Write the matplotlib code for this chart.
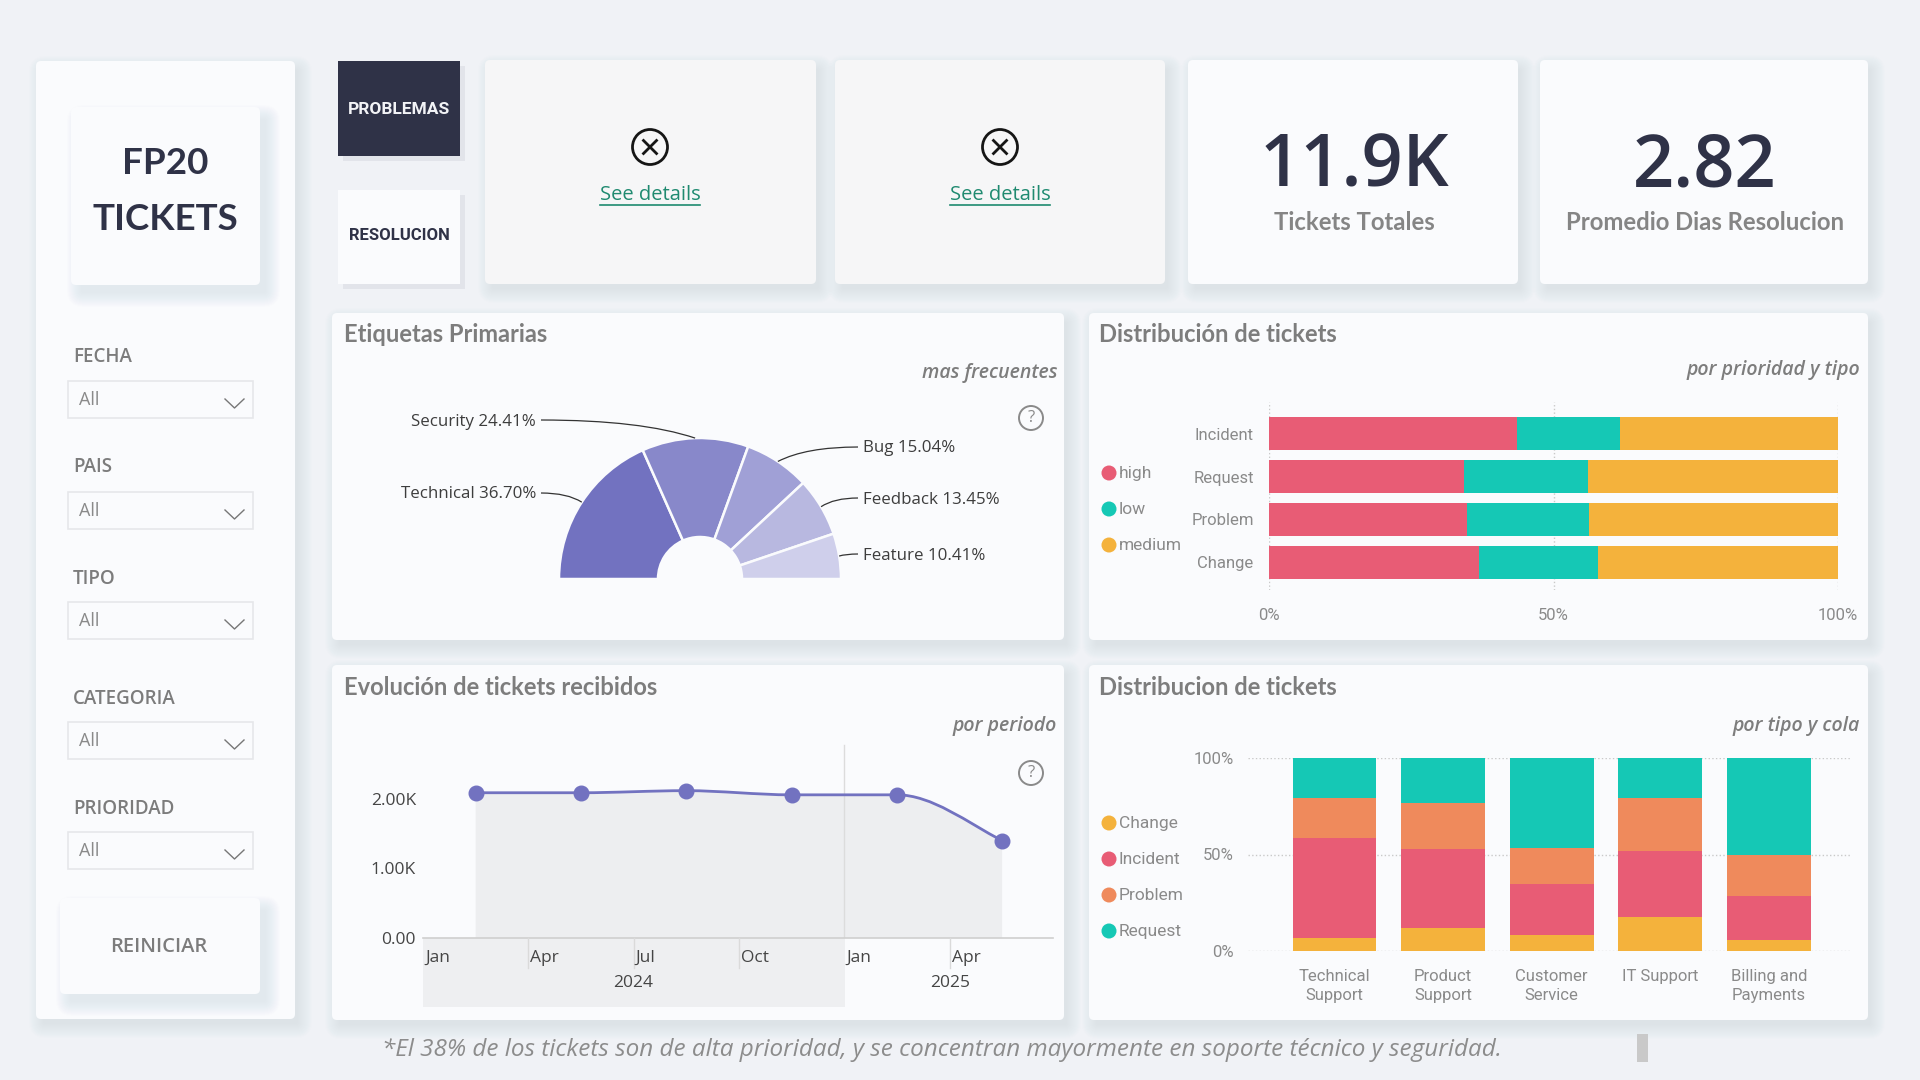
import matplotlib
matplotlib.use("Agg")
import matplotlib.pyplot as plt
from matplotlib.patches import FancyBboxPatch, Rectangle, Circle, PathPatch
from matplotlib.path import Path
import numpy as np

W, H = 1920, 1080
BG = "#F0F2F6"; CARD = "#FAFBFD"; DARK = "#2F3247"; GREY = "#808080"; AXT = "#8A8A8A"
RED = "#E85C75"; TEAL = "#15C8B5"; AMBER = "#F4B23C"; ORANGE = "#EF8A5C"; PURPLE = "#7272C0"

# ---- data ----
tag_names = ["Technical", "Security", "Bug", "Feedback", "Feature"]
tag_values = [36.70, 24.41, 15.04, 13.45, 10.41]
tag_colors = ["#7272C0", "#8888CA", "#A0A0D6", "#B8B8E0", "#CFCFEB"]

prio_types = ["Incident", "Request", "Problem", "Change"]
prio_high = [43.5, 34.3, 34.8, 36.9]
prio_low = [18.1, 21.7, 21.5, 20.9]
prio_medium = [38.4, 44.0, 43.7, 42.2]

months_x = [0.5, 1.5, 2.5, 3.5, 4.5, 5.5]
tickets_k = [2.09, 2.09, 2.12, 2.06, 2.06, 1.40]
quarter_labels = ["Jan", "Apr", "Jul", "Oct", "Jan", "Apr"]

queues = ["Technical\nSupport", "Product\nSupport", "Customer\nService", "IT Support", "Billing and\nPayments"]
q_change = [6.9, 12.1, 8.3, 17.8, 5.7]
q_incident = [51.4, 41.0, 26.6, 34.1, 23.0]
q_problem = [21.1, 23.5, 18.7, 27.5, 20.9]
q_request = [20.6, 23.4, 46.4, 20.6, 50.4]

filters = ["FECHA", "PAIS", "TIPO", "CATEGORIA", "PRIORIDAD"]
kpi_values = ["11.9K", "2.82"]
kpi_labels = ["Tickets Totales", "Promedio Dias Resolucion"]

# ---- figure ----
fig = plt.figure(figsize=(19.2, 10.8), dpi=100, facecolor=BG)

def px_axes(x0, y0, x1, y1, z=2):
    a = fig.add_axes([x0 / W, 1 - y1 / H, (x1 - x0) / W, (y1 - y0) / H], zorder=z)
    a.patch.set_alpha(0)
    return a

bg = px_axes(0, 0, W, H, z=0); bg.set_xlim(0, W); bg.set_ylim(H, 0); bg.axis("off")
top = px_axes(0, 0, W, H, z=5); top.set_xlim(0, W); top.set_ylim(H, 0); top.axis("off")

def card(x0, y0, x1, y1, color=CARD, shadow=True, r=5, z=1, sdx=5, sdy=7):
    if shadow:
        for g in range(-4, 26, 2):
            bg.add_patch(FancyBboxPatch((x0 + sdx - g/2, y0 + sdy - g/2), x1 - x0 + g, y1 - y0 + g,
                         boxstyle=f"round,pad=0,rounding_size={max(r + g/2, 1)}", fc="#A9B6D6", ec="none",
                         alpha=0.014, zorder=z))
    bg.add_patch(FancyBboxPatch((x0, y0), x1 - x0, y1 - y0, boxstyle=f"round,pad=0,rounding_size={r}",
                 fc=color, ec="none", zorder=z + 0.5))

def button(x0, y0, x1, y1, color):
    bg.add_patch(Rectangle((x0 + 5, y0 + 5), x1 - x0, y1 - y0, fc="#E2E4EA", ec="none", zorder=1))
    bg.add_patch(Rectangle((x0, y0), x1 - x0, y1 - y0, fc=color, ec="none", zorder=1.5))

def txt(x, y, s, size, color=GREY, ha="left", va="center", family="Open Sans", weight="normal", style="normal", ax=top, **k):
    return ax.text(x, y + 2.5, s, fontsize=size, color=color, ha=ha, va=va, family=family, weight=weight, style=style, **k)

# ---- cards ----
card(36, 61, 295, 1019, z=1)
card(71, 107, 260, 285, z=2, sdx=8, sdy=10)
card(60, 898, 260, 994, z=2, sdx=8, sdy=10)
button(338, 61, 460, 156, DARK)
button(338, 190, 460, 284, CARD)
card(485, 60, 816, 284, color="#F6F6F7", z=1)
card(835, 60, 1165, 284, color="#F6F6F7", z=1)
card(1188, 60, 1518, 284, z=1)
card(1540, 60, 1868, 284, z=1)
card(332, 313, 1064, 640, z=1)
card(1089, 313, 1868, 640, z=1)
card(332, 665, 1064, 1020, z=1)
card(1089, 665, 1868, 1020, z=1)

# ---- sidebar ----
txt(165, 161.5, "FP20", 26.5, DARK, ha="center", family="Lato", weight="bold")
txt(165, 217.5, "TICKETS", 26.5, DARK, ha="center", family="Lato", weight="bold")
filter_y = [355, 465, 576, 696, 807]
box_y = [381, 492, 602, 722, 832]
for name, ly, by in zip(filters, filter_y, box_y):
    txt(73, ly, name, 13.5, "#7C7C7C", weight="semibold")
    top.add_patch(Rectangle((68, by), 185, 36.5, fc="#FAFBFD", ec="#E6E7EA", lw=1.2))
    txt(79, by + 16.5, "All", 13, "#8A8A8A")
    c = by + 18
    top.plot([225, 234.5, 244], [c, c + 9, c], color="#777777", lw=1)
txt(159, 944, "REINICIAR", 14.5, "#7C7C7C", ha="center", weight="semibold")

# ---- buttons ----
txt(399, 106.5, "PROBLEMAS", 12.5, "#F2F3F6", ha="center", weight="bold", family="Roboto")
txt(399, 233.5, "RESOLUCION", 12, DARK, ha="center", weight="semibold", family="Roboto")

# ---- see details ----
for cx in (650, 1000):
    top.add_patch(Circle((cx, 147), 17.5, fc="none", ec="#151515", lw=2))
    top.plot([cx - 6.5, cx + 6.5], [140.5, 153.5], color="#151515", lw=2)
    top.plot([cx - 6.5, cx + 6.5], [153.5, 140.5], color="#151515", lw=2)
    txt(cx, 193, "See details", 14.5, "#1F8A70", ha="center")
    top.plot([cx - 50, cx + 50], [205, 205], color="#1F8A70", lw=1.2)

# ---- KPIs ----
for cx, v, l in zip((1354, 1705), kpi_values, kpi_labels):
    txt(cx, 165, v, 52, DARK, ha="center", weight="semibold")
    txt(cx, 220.5, l, 17.2, "#858585", ha="center", family="Lato", weight="bold")

# ---- titles ----
titles = [(344, 332, "Etiquetas Primarias"), (1099, 332, "Distribución de tickets"),
          (344, 685, "Evolución de tickets recibidos"), (1099, 685, "Distribucion de tickets")]
for x, y, s in titles:
    txt(x, y, s, 17.1, "#7D7D7D", family="Lato", weight="bold")
subs = [(1057, 370.5, "mas frecuentes"), (1860, 368, "por prioridad y tipo"),
        (1057, 723, "por periodo"), (1860, 723, "por tipo y cola")]
for x, y, s in subs:
    txt(x, y, s, 14, "#7D7D7D", ha="right", style="italic", weight="semibold")

# ---- question icons ----
for y in (418, 773):
    top.add_patch(Circle((1031, y), 12, fc="none", ec="#8A8A8A", lw=1.4))
    txt(1031, y - 2.5, "?", 12, "#8A8A8A", ha="center")

# ---- half donut ----
CX, CY, RO, RI = 700, 579, 141, 42
axp = px_axes(CX - RO, CY - RO, CX + RO, CY, z=2)
total = sum(tag_values)
wedges, _ = axp.pie(tag_values + [total], startangle=180, counterclock=False, radius=1,
                    colors=tag_colors + ["none"],
                    wedgeprops=dict(width=1 - RI / RO, edgecolor=CARD, linewidth=1.8))
wedges[-1].set_visible(False)
axp.set_xlim(-1, 1); axp.set_ylim(0, 1); axp.set_aspect("auto")

label_pos = [(536, 493, "right"), (536, 420, "right"), (863, 447, "left"), (863, 498, "left"), (863, 554, "left")]
cum = 0
for name, val, (lx, ly, ha) in zip(tag_names, tag_values, label_pos):
    ang = np.deg2rad(180 - (cum + val / 2) / total * 180)
    cum += val
    ax_, ay_ = CX + RO * np.cos(ang), CY - RO * np.sin(ang)
    ex = lx + (5 if ha == "right" else -5)
    ctrl = (ex * 0.35 + ax_ * 0.65, ly)
    top.add_patch(PathPatch(Path([(ex, ly), ctrl, (ax_, ay_)], [Path.MOVETO, Path.CURVE3, Path.CURVE3]),
                            fc="none", ec="#333333", lw=0.9))
    txt(lx, ly - 1, f"{name} {val:.2f}%", 12.2, "#3D3D3D", ha=ha, family="Open Sans")

# ---- 100% bars by type ----
axb = px_axes(1269, 402, 1838, 590)
ypos = np.arange(len(prio_types))
left = np.zeros(len(prio_types))
for vals, col in zip((prio_high, prio_low, prio_medium), (RED, TEAL, AMBER)):
    axb.barh(ypos, vals, left=left, height=33 / 43, color=col, linewidth=0)
    left += np.array(vals)
axb.set_xlim(0, 100); axb.set_ylim(3.64, -0.733)
axb.set_xticks([0, 50, 100]); axb.set_xticklabels(["0%", "50%", "100%"], fontsize=12, color=AXT, family="Roboto")
axb.set_yticks(ypos); axb.set_yticklabels(prio_types, fontsize=12, color=AXT, family="Roboto")
axb.tick_params(length=0, pad=11, axis="y"); axb.tick_params(length=0, pad=13, axis="x")
axb.grid(axis="x", color="#C9C9C9", ls=":", lw=1); axb.set_axisbelow(True)
for s in axb.spines.values(): s.set_visible(False)
for y, n, c in zip((473, 509, 545), ("high", "low", "medium"), (RED, TEAL, AMBER)):
    top.add_patch(Circle((1109, y), 7.5, fc=c, ec="none"))
    txt(1119, y - 2, n, 12.5, AXT, family="Roboto")

# ---- line chart ----
axl = px_axes(423, 730, 1053, 938)
Q = 630 / 105.3
axl.set_xlim(0, Q); axl.set_ylim(0, 208 / 69.5)
def smooth_path(xs, ys):
    xs = np.array(xs); ys = np.array(ys)
    d = np.diff(ys) / np.diff(xs)
    m = np.zeros_like(ys)
    for i in range(1, len(ys) - 1):
        m[i] = 0 if d[i - 1] * d[i] <= 0 or abs(d[i]) < 1e-9 or abs(d[i - 1]) < 1e-9 else 2 * d[i - 1] * d[i] / (d[i - 1] + d[i])
    m[0] = d[0]; m[-1] = d[-1] * 1.2
    v = [(xs[0], ys[0])]; c = [Path.MOVETO]
    for i in range(len(xs) - 1):
        h = xs[i + 1] - xs[i]
        v += [(xs[i] + h / 3, ys[i] + m[i] * h / 3), (xs[i + 1] - h / 3, ys[i + 1] - m[i + 1] * h / 3), (xs[i + 1], ys[i + 1])]
        c += [Path.CURVE4] * 3
    return v, c
v, c = smooth_path(months_x, tickets_k)
axl.add_patch(PathPatch(Path(v + [(months_x[-1], 0), (months_x[0], 0), v[0]], c + [Path.LINETO, Path.LINETO, Path.LINETO]),
                        fc="#EDEEF0", ec="none", zorder=1))
axl.axvline(4, ymax=(938 - 745) / 208, color="#DCDCDC", lw=1, zorder=2)
axl.add_patch(PathPatch(Path(v, c), fc="none", ec=PURPLE, lw=2, zorder=3))
axl.plot(months_x, tickets_k, ls="none", marker="o", ms=10.5, color=PURPLE, zorder=4, clip_on=False)
axl.set_yticks([0, 1, 2]); axl.set_yticklabels(["0.00", "1.00K", "2.00K"], fontsize=12.5, color="#454545", family="Open Sans")
axl.tick_params(axis="y", length=0, pad=5)
axl.set_xticks([])
for s in ("top", "right", "left"): axl.spines[s].set_visible(False)
axl.spines["bottom"].set_color("#CFCFCF"); axl.spines["bottom"].set_linewidth(1.2)
# date axis band
bg.add_patch(Rectangle((423, 938), 422, 69, fc="#EEEFF1", ec="none", zorder=3))
qx = lambda q: 423 + 105.3 * q
for q, lab in enumerate(quarter_labels):
    txt(qx(q) + 2, 955, lab, 12.5, "#454545")
    if q not in (0, 4):
        top.plot([qx(q), qx(q)], [938, 968], color="#DADADA", lw=1)
txt(qx(2), 980.5, "2024", 12.5, "#454545", ha="center")
txt(qx(5) + 1, 980.5, "2025", 12.5, "#454545", ha="center")

# ---- 100% columns ----
axc = px_axes(1248, 758, 1851, 951)
xpos = np.arange(len(queues))
bottom = np.zeros(len(queues))
for vals, col in zip((q_change, q_incident, q_problem, q_request), (AMBER, RED, ORANGE, TEAL)):
    axc.bar(xpos, vals, bottom=bottom, width=83.7 / 108.6, color=col, linewidth=0)
    bottom += np.array(vals)
axc.set_xlim((1248 - 1334.5) / 108.6, (1851 - 1334.5) / 108.6); axc.set_ylim(0, 100)
axc.set_yticks([0, 50, 100]); axc.set_yticklabels(["0%", "50%", "100%"], fontsize=12, color=AXT, family="Roboto")
axc.set_xticks(xpos); axc.set_xticklabels(queues, fontsize=12, color=AXT, family="Roboto", linespacing=1.3)
axc.tick_params(axis="y", length=0, pad=10); axc.tick_params(axis="x", length=0, pad=13)
axc.grid(axis="y", color="#C9C9C9", ls=":", lw=1); axc.set_axisbelow(True)
for s in axc.spines.values(): s.set_visible(False)
for y, n, col in zip((823, 859, 895, 931), ("Change", "Incident", "Problem", "Request"), (AMBER, RED, ORANGE, TEAL)):
    top.add_patch(Circle((1109, y), 7.5, fc=col, ec="none"))
    txt(1119, y - 2, n, 12.5, AXT, family="Roboto")

# ---- footnote ----
txt(382, 1047.5, "*El 38% de los tickets son de alta prioridad, y se concentran mayormente en soporte técnico y seguridad.",
    17.5, "#8C8C8C", style="italic")
top.add_patch(Rectangle((1637, 1034), 11, 28, fc="#C9C9C9", ec="none"))

fig.savefig("out.png", dpi=100, facecolor=BG)
